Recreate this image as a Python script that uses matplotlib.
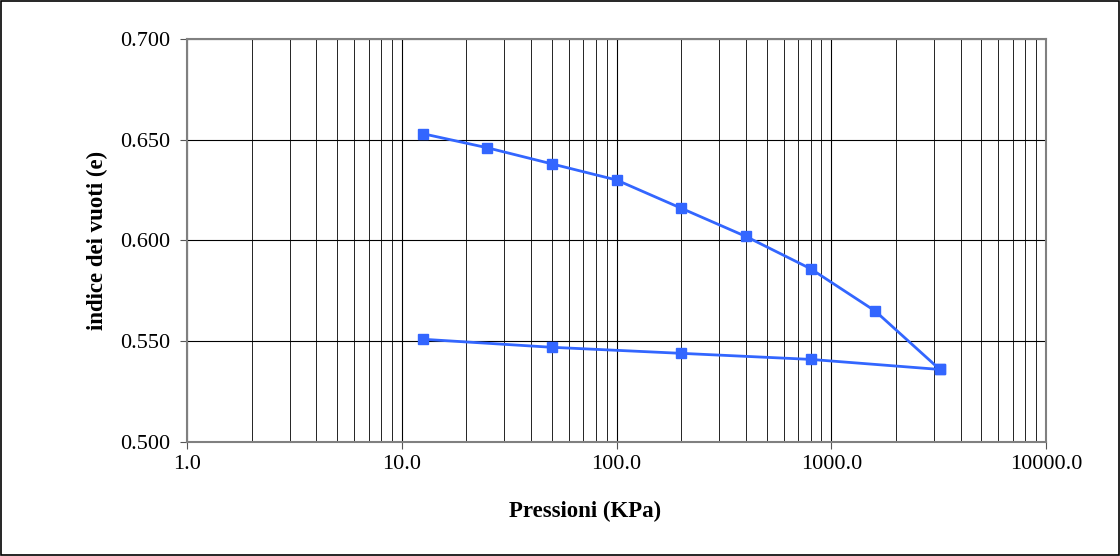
import numpy as np
from matplotlib import pyplot as plt
from matplotlib.ticker import FixedLocator, FuncFormatter, LogLocator, NullFormatter

# loading branch
p_load = [12.5, 25, 50, 100, 200, 400, 800, 1600, 3200]
e_load = [0.653, 0.646, 0.638, 0.630, 0.616, 0.602, 0.586, 0.565, 0.536]
# unloading branch
p_unload = [3200, 800, 200, 50, 12.5]
e_unload = [0.536, 0.541, 0.544, 0.547, 0.551]

y_ticks = [0.500, 0.550, 0.600, 0.650, 0.700]

plt.rcParams['font.family'] = ['Liberation Serif', 'DejaVu Serif']

fig = plt.figure(figsize=(11.2, 5.56), dpi=100)
fig.patches.append(plt.Rectangle((0.001, 0.001), 0.998, 0.998, transform=fig.transFigure,
                                 fill=False, edgecolor='black', linewidth=1.2))
ax = fig.add_axes([0.167, 0.205, 0.767, 0.725])

c = '#3366FF'
ax.plot(p_load + p_unload, e_load + e_unload, color=c, linewidth=2,
        marker='s', markersize=7.5, markerfacecolor=c, markeredgecolor=c, zorder=3)

ax.set_xscale('log')
ax.set_xlim(1, 10000)
ax.set_ylim(0.5, 0.7)
ax.xaxis.set_major_locator(LogLocator(base=10))
ax.xaxis.set_minor_locator(LogLocator(base=10, subs=np.arange(2, 10)))
ax.xaxis.set_major_formatter(FuncFormatter(lambda v, pos: '%.1f' % v))
ax.xaxis.set_minor_formatter(NullFormatter())
ax.yaxis.set_major_locator(FixedLocator(y_ticks))
ax.yaxis.set_major_formatter(FuncFormatter(lambda v, pos: '%.3f' % v))

ax.grid(True, which='major', color='black', linewidth=0.8)
ax.grid(True, which='minor', axis='x', color='black', linewidth=0.6)
ax.tick_params(which='major', direction='out', length=5, labelsize=16, color='#555555')
ax.tick_params(which='minor', length=0)
ax.tick_params(axis='x', pad=4)
ax.tick_params(axis='y', pad=7)
for s in ax.spines.values():
    s.set_color('#808080')
    s.set_linewidth(1.5)

ax.set_xlabel('Pressioni (KPa)', fontsize=16.5, fontweight='bold')
ax.xaxis.set_label_coords(0.463, -0.145)
ax.set_ylabel('indice dei vuoti (e)', fontsize=16.5, fontweight='bold', labelpad=9)

fig.savefig('out.png', dpi=100)
